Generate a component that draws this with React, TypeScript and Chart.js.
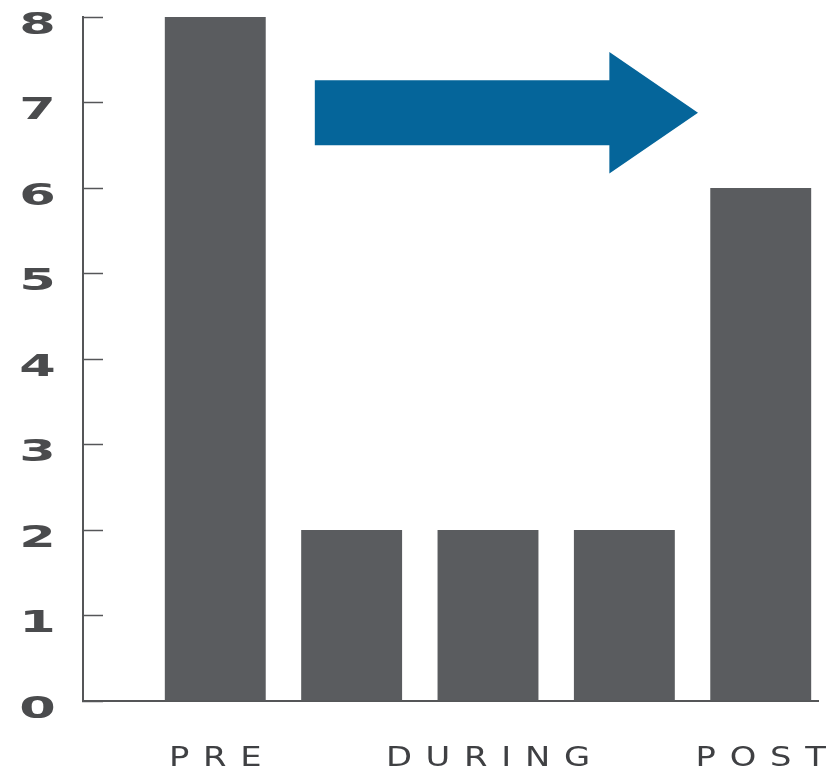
import React, { useEffect, useRef } from "react";
import { Chart, registerables } from "chart.js";

Chart.register(...registerables);

// ---- data ----
const categories = ["Pre", "During 1", "During 2", "During 3", "Post"];
const values = [8, 2, 2, 2, 6];
const xTickLabels = ["PRE", "", "DURING", "", "POST"];
const yMin = 0;
const yMax = 8;
const yStep = 1;

// arrow annotation, in data units (x = category index, y = value)
const arrowStartX = 0.73;
const arrowHeadX = 2.89;
const arrowTipX = 3.54;
const arrowCenterY = 6.88;
const arrowShaftHalf = 0.38;
const arrowHeadHalf = 0.71;

const BAR_COLOR = "#5a5c5f";
const AXIS_COLOR = "#555658";
const ARROW_COLOR = "#05659a";

const arrowPlugin = {
  id: "arrowPlugin",
  afterDatasetsDraw(chart: any) {
    const { ctx, scales } = chart;
    const x = scales.x;
    const y = scales.y;
    const x0 = x.getPixelForValue(arrowStartX);
    const xh = x.getPixelForValue(arrowHeadX);
    const xt = x.getPixelForValue(arrowTipX);
    const yc = y.getPixelForValue(arrowCenterY);
    const s1 = y.getPixelForValue(arrowCenterY + arrowShaftHalf);
    const s2 = y.getPixelForValue(arrowCenterY - arrowShaftHalf);
    const h1 = y.getPixelForValue(arrowCenterY + arrowHeadHalf);
    const h2 = y.getPixelForValue(arrowCenterY - arrowHeadHalf);
    ctx.save();
    ctx.fillStyle = ARROW_COLOR;
    ctx.beginPath();
    ctx.moveTo(x0, s1);
    ctx.lineTo(xh, s1);
    ctx.lineTo(xh, h1);
    ctx.lineTo(xt, yc);
    ctx.lineTo(xh, h2);
    ctx.lineTo(xh, s2);
    ctx.lineTo(x0, s2);
    ctx.closePath();
    ctx.fill();
    ctx.restore();
  },
};

const X_STRETCH = 1.25;
const X_SPACING = 11;
const Y_STRETCH = 1.75;

const labelStylePlugin = {
  id: "labelStylePlugin",
  afterLayout(chart: any) {
    const ys = chart.scales.y;
    if (ys && !ys.__wrapped) {
      const orig = ys.drawLabels.bind(ys);
      ys.drawLabels = function (area: any) {
        const items = this.getLabelItems(area);
        const cx = items.length ? items[0].options.translation[0] : 0;
        const ctx = this.ctx;
        ctx.save();
        ctx.translate(cx, 0);
        ctx.scale(Y_STRETCH, 1);
        ctx.translate(-cx, 0);
        orig(area);
        ctx.restore();
      };
      ys.__wrapped = true;
    }
    const xs = chart.scales.x;
    if (xs && !xs.__wrapped) {
      xs.drawLabels = function (area: any) {
        const ctx = this.ctx;
        const items = this.getLabelItems(area);
        for (const item of items) {
          const label = String(item.label ?? "");
          if (!label) continue;
          const [tx, ty] = item.options.translation;
          ctx.save();
          ctx.translate(tx, ty);
          ctx.scale(X_STRETCH, 1);
          ctx.font = item.font.string;
          ctx.fillStyle = item.options.color;
          (ctx as any).letterSpacing = X_SPACING + "px";
          ctx.textAlign = "left";
          ctx.textBaseline = item.options.textBaseline;
          const w = ctx.measureText(label).width - X_SPACING;
          ctx.fillText(label, -w / 2, item.textOffset);
          ctx.restore();
        }
      };
      xs.__wrapped = true;
    }
  },
};

export default function App() {
  const canvasRef = useRef<HTMLCanvasElement | null>(null);

  useEffect(() => {
    document.body.style.margin = "0";
    const canvas = canvasRef.current;
    if (!canvas) return;
    const chart = new Chart(canvas, {
      type: "bar",
      data: {
        labels: categories,
        datasets: [
          {
            label: "Value",
            data: values.map((v, i) => ({ x: i, y: v })) as any,
            backgroundColor: BAR_COLOR,
            borderWidth: 0,
            barPercentage: 0.74,
            categoryPercentage: 1,
          },
        ],
      },
      options: {
        responsive: false,
        animation: false,
        devicePixelRatio: 1,
        layout: { padding: { top: 17, right: 18, left: 0, bottom: 0 } },
        plugins: {
          legend: { display: false },
          tooltip: { enabled: false },
        },
        scales: {
          x: {
            type: "linear",
            offset: false,
            min: -0.97,
            max: 4.42,
            afterBuildTicks: (s: any) => {
              s.ticks = values.map((_, i) => ({ value: i }));
            },
            afterFit: (s: any) => {
              s.height = 68;
              s.paddingLeft = 0;
              s.paddingRight = 0;
            },
            ticks: {
              autoSkip: false,
              maxRotation: 0,
              padding: 42,
              color: "#3f4043",
              font: { family: "DejaVu Sans", size: 27, weight: "normal" },
              callback: (_v: any, index: number) => xTickLabels[index] ?? "",
            },
            grid: { display: false, drawTicks: false, offset: false },
            border: { display: true, color: AXIS_COLOR, width: 2 },
          },
          y: {
            min: yMin,
            max: yMax,
            afterFit: (s: any) => {
              s.width = 83;
              s.paddingTop = 0;
              s.paddingBottom = 0;
            },
            ticks: {
              stepSize: yStep,
              padding: 55,
              crossAlign: "center",
              labelOffset: 9,
              color: "#4a4b4d",
              font: { family: "DejaVu Sans", size: 30, weight: "bold" },
            },
            grid: {
              display: true,
              drawOnChartArea: false,
              drawTicks: true,
              tickLength: -20,
              tickColor: AXIS_COLOR,
              tickWidth: 1.5,
            },
            border: { display: true, color: AXIS_COLOR, width: 2 },
          },
        },
      } as any,
      plugins: [arrowPlugin, labelStylePlugin],
    });
    return () => chart.destroy();
  }, []);

  return (
    <div style={{ position: "absolute", left: 0, top: 0, width: 836, height: 769, background: "#fff" }}>
      <canvas ref={canvasRef} width={836} height={769} style={{ display: "block" }} />
    </div>
  );
}
